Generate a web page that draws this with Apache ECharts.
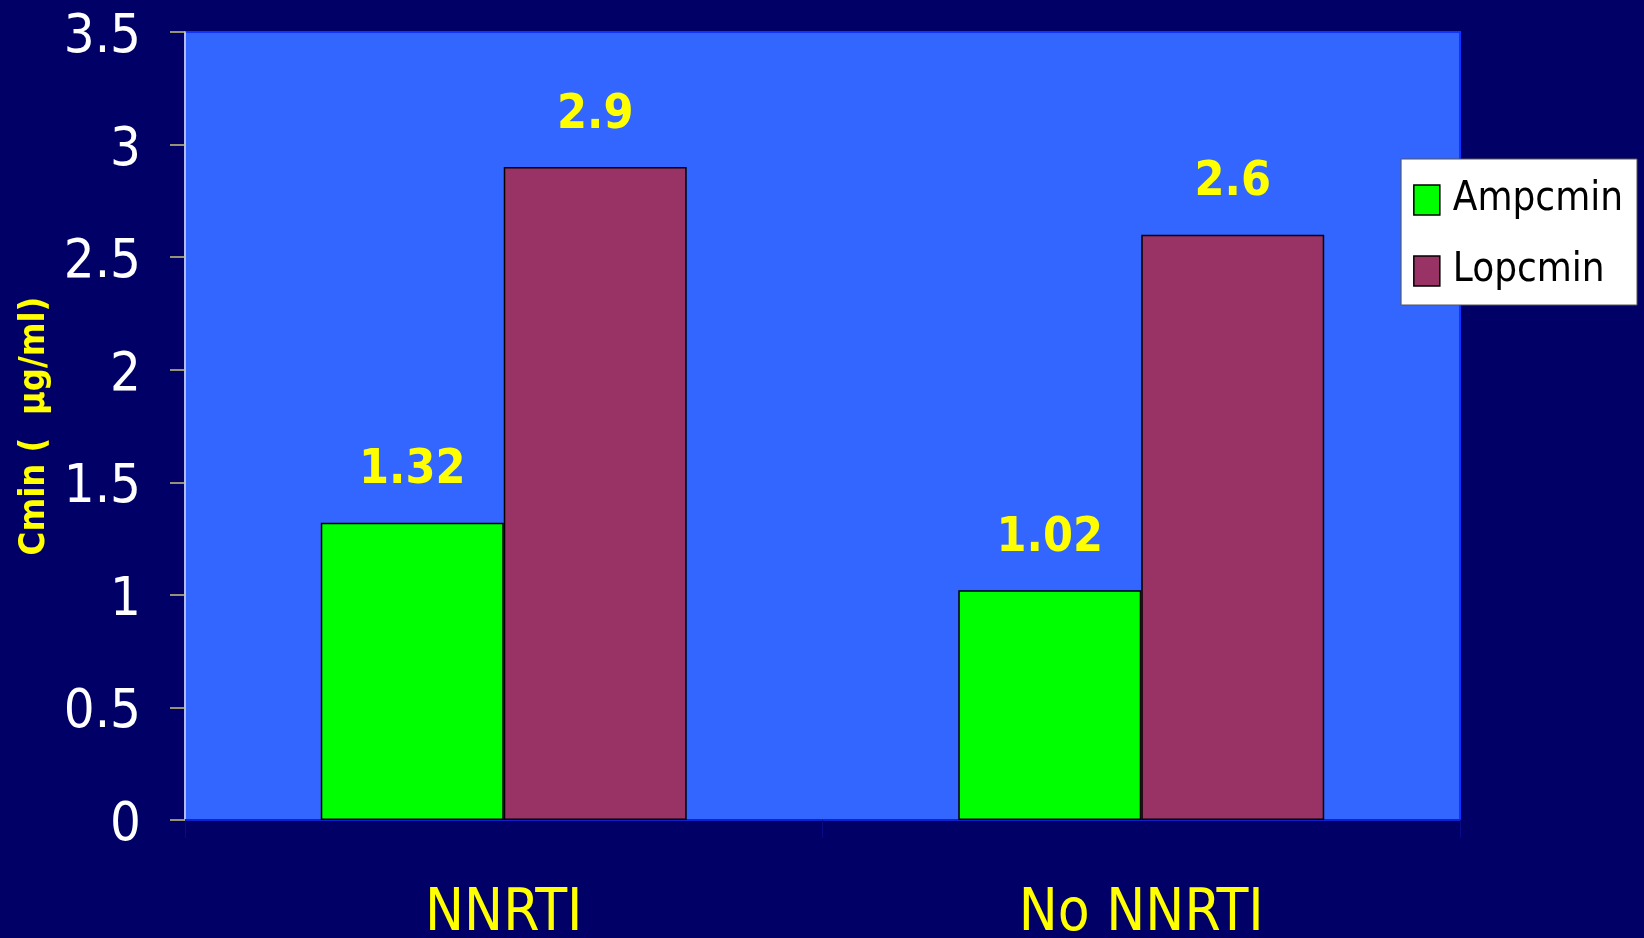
<!DOCTYPE html>
<html>
<head>
<meta charset="utf-8">
<style>
  html, body { margin: 0; padding: 0; background: #000066; }
  #chart { width: 1644px; height: 938px; }
</style>
<script src="https://cdn.jsdelivr.net/npm/echarts@6/dist/echarts.min.js"></script>
</head>
<body>
<div id="chart"></div>
<script>
// Trough concentrations grouped by NNRTI co-medication
const categories = ['NNRTI', 'No NNRTI'];
const ampcmin = [1.32, 1.02];
const lopcmin = [2.9, 2.6];
const seriesNames = ['Ampcmin', 'Lopcmin'];
const yAxisTitle = 'Cmin (  µg/ml)';

const NARROW = '"DejaVu Sans Condensed", "Liberation Sans Narrow", sans-serif';

const valueLabel = {
  show: true,
  position: 'top',
  distance: 28,
  color: '#ffff00',
  fontFamily: NARROW,
  fontWeight: 'bold',
  fontSize: 48,
  formatter: p => String(p.value)
};

const chart = echarts.init(document.getElementById('chart'));
chart.setOption({
  backgroundColor: '#000066',
  animation: false,
  grid: {
    left: 185, right: 184, top: 32, bottom: 118,
    outerBoundsMode: 'none',
    containLabel: false,
    show: true,
    backgroundColor: '#3366ff',
    borderColor: '#1133ff',
    borderWidth: 2
  },
  legend: {
    orient: 'vertical',
    right: 7,
    top: 159,
    backgroundColor: '#ffffff',
    borderColor: '#555555',
    borderWidth: 1,
    padding: [20, 14, 13, 12],
    itemWidth: 26,
    itemHeight: 30,
    itemGap: 29,
    icon: 'rect',
    itemStyle: { borderColor: '#000000', borderWidth: 1.5 },
    textStyle: {
      color: '#000000',
      fontFamily: NARROW,
      fontSize: 40,
      lineHeight: 42,
      padding: [0, 0, 0, 8]
    },
    data: seriesNames
  },
  xAxis: {
    type: 'category',
    data: categories,
    axisLine: { show: true, lineStyle: { color: '#1122cc', width: 2 } },
    axisTick: { show: true, length: 18, lineStyle: { color: '#0a0a88' } },
    axisLabel: {
      color: '#ffff00',
      fontFamily: NARROW,
      fontSize: 58,
      margin: 66
    },
    splitLine: { show: false }
  },
  yAxis: {
    type: 'value',
    min: 0,
    max: 3.5,
    interval: 0.5,
    name: yAxisTitle,
    nameLocation: 'middle',
    nameGap: 107,
    nameTextStyle: {
      color: '#ffff00',
      fontFamily: NARROW,
      fontWeight: 'bold',
      fontSize: 36
    },
    axisLine: { show: true, lineStyle: { color: '#e8e8e8', width: 1.5 } },
    axisTick: { show: true, length: 15, lineStyle: { color: '#c8c27a', width: 1.5 } },
    axisLabel: {
      margin: 44,
      formatter: '{t|{value}}',
      rich: {
        t: {
          color: '#ffffff',
          fontFamily: NARROW,
          fontSize: 54,
          padding: [12, 0, 0, 0]
        }
      }
    },
    splitLine: { show: false }
  },
  series: [
    {
      name: seriesNames[0],
      type: 'bar',
      data: ampcmin,
      barWidth: '28.7%',
      barGap: '0%',
      itemStyle: { color: '#00ff00', borderColor: '#000000', borderWidth: 1.5 },
      label: valueLabel
    },
    {
      name: seriesNames[1],
      type: 'bar',
      data: lopcmin,
      barWidth: '28.7%',
      itemStyle: { color: '#993366', borderColor: '#000000', borderWidth: 1.5 },
      label: valueLabel
    }
  ]
});
</script>
</body>
</html>
